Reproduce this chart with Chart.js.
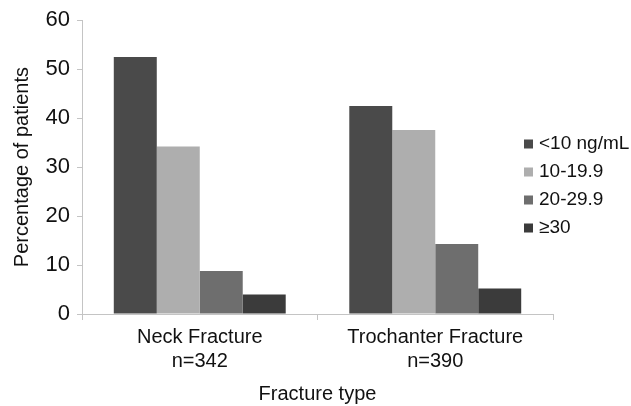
<!DOCTYPE html>
<html>
<head>
<meta charset="utf-8">
<script src="https://cdn.jsdelivr.net/npm/chart.js@4/dist/chart.umd.min.js"></script>
<style>
  html, body { margin: 0; padding: 0; background: #fff; }
</style>
</head>
<body>
<canvas id="chart" width="631" height="406"></canvas>
<script>
const categories = [['Neck Fracture', 'n=342'], ['Trochanter Fracture', 'n=390']]
const seriesLabels = ['<10 ng/mL', '10-19.9', '20-29.9', '\u226530']
const under10 = [52.5, 42.5]
const from10to19 = [34.2, 37.6]
const from20to29 = [8.8, 14.3]
const atLeast30 = [4.0, 5.2]
const yTicks = [0, 10, 20, 30, 40, 50, 60]

const colors = ['#4a4a4a', '#aeaeae', '#6e6e6e', '#3b3b3b']
const sans = "'Liberation Sans', Arial, sans-serif"

// legend sits inside the plot's right side, so draw it by hand
const sideLegend = {
    id: 'sideLegend',
    afterDraw(chart) {
        const ctx = chart.ctx
        ctx.save()
        ctx.font = "19px " + sans
        ctx.textBaseline = 'middle'
        chart.data.datasets.forEach((ds, i) => {
            const y = 144 + i * 28
            ctx.fillStyle = ds.backgroundColor
            ctx.fillRect(524, y - 4.5, 9, 9)
            ctx.fillStyle = '#111'
            ctx.fillText(ds.label, 539, y)
        })
        ctx.restore()
    }
}

const data = [under10, from10to19, from20to29, atLeast30]

new Chart(document.getElementById('chart'), {
    type: 'bar',
    data: {
        labels: categories,
        datasets: seriesLabels.map((label, i) => ({
            label: label,
            data: data[i],
            backgroundColor: colors[i],
            borderWidth: 0
        }))
    },
    options: {
        responsive: false,
        animation: false,
        layout: { padding: { left: 0, right: 78, top: 14, bottom: 0 } },
        plugins: {
            legend: { display: false },
            tooltip: { enabled: false }
        },
        datasets: {
            bar: { categoryPercentage: 0.73, barPercentage: 1.0 }
        },
        scales: {
            x: {
                afterFit: s => { s.height = 92 },
                border: { color: '#c4c4c4', width: 1 },
                grid: { drawOnChartArea: false, color: '#c4c4c4', tickLength: 6 },
                ticks: { color: '#111', padding: 5, font: { family: sans, size: 20 } },
                title: {
                    display: true,
                    text: 'Fracture type',
                    color: '#111',
                    padding: { top: 6, bottom: 0 },
                    font: { family: sans, size: 20 }
                }
            },
            y: {
                min: 0,
                max: 60,
                afterFit: s => { s.width = 82 },
                afterBuildTicks: s => { s.ticks = yTicks.map(v => ({ value: v })) },
                border: { color: '#c4c4c4', width: 1 },
                grid: { drawOnChartArea: false, color: '#c4c4c4', tickLength: 5 },
                ticks: { color: '#111', padding: 7, font: { family: sans, size: 22 } },
                title: {
                    display: true,
                    text: 'Percentage of patients',
                    color: '#111',
                    padding: { top: 10, bottom: 0 },
                    font: { family: sans, size: 20 }
                }
            }
        }
    },
    plugins: [sideLegend]
})
</script>
</body>
</html>
